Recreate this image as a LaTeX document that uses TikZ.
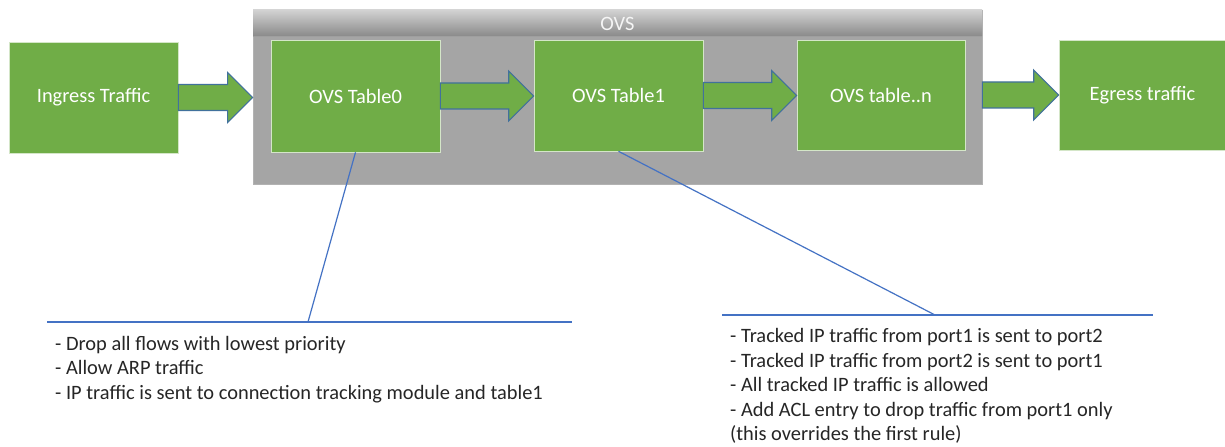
\documentclass[tikz,border=0pt]{standalone}
\usepackage{fontspec}
\setmainfont{Carlito}
\usetikzlibrary{calc}
\definecolor{boxgreen}{HTML}{70AD47}
\definecolor{arrowedge}{HTML}{41719C}
\definecolor{bodygray}{HTML}{A5A5A5}
\definecolor{headtop}{HTML}{D2D2D2}
\definecolor{headbot}{HTML}{8A8A8A}
\definecolor{callblue}{HTML}{4472C4}
\definecolor{notetext}{HTML}{262626}
\tikzset{
  greenbox/.style={draw=white!70!boxgreen, line width=0.6bp, fill=boxgreen, text=white,
    font=\fontsize{20.5}{24.5}\selectfont, inner sep=0pt, minimum width=169bp, minimum height=111bp},
  blockarrow/.style={draw=arrowedge, line width=1.1bp, fill=boxgreen, line join=miter},
  callout/.style={draw=callblue, line width=1.2bp},
  notetxt/.style={text=notetext, align=left, anchor=north west, inner sep=0pt,
    font=\fontsize{20.5}{24.5}\selectfont},
}
\newcommand\blockarr[2]{%
  \draw[blockarrow] ($(#1)+(0,-13)$) -- ($(#2 |- #1)+(-25,-13)$) -- ($(#2 |- #1)+(-25,-25)$)
    -- (#2 |- #1) -- ($(#2 |- #1)+(-25,25)$) -- ($(#2 |- #1)+(-25,13)$) -- ($(#1)+(0,13)$) -- cycle;}
\begin{document}
\begin{tikzpicture}[x=1bp,y=-1bp]
\useasboundingbox[fill=white] (0,0) rectangle (1225,447);
% OVS container
\node[draw=gray!60, line width=0.6bp, fill=bodygray, minimum width=729bp, minimum height=174bp, inner sep=0pt] (ovs) at (617.5,97) {};
\shade[top color=headtop, bottom color=headbot] (253,10) rectangle (982,36);
\draw[gray!75, line width=0.8bp] (253,36) -- (982,36);
\node[text=white!92!gray, font=\fontsize{20.5}{24.5}\selectfont, inner sep=0pt] (ovshead) at (617.5,23.5) {OVS};
% boxes
\node[greenbox] (in) at (93.5,97.5) {Ingress Traffic};
\node[greenbox, minimum height=112bp] (t0) at (355.5,96) {OVS Table0};
\node[greenbox] (t1) at (618.5,95.5) {OVS Table1};
\node[greenbox, minimum width=168bp, minimum height=110bp] (tn) at (881,95) {OVS table..n};
\node[greenbox, minimum width=167bp, minimum height=110bp] (eg) at (1142.5,95) {Egress traffic};
% arrows
\blockarr{in.east}{ovs.west}
\blockarr{t0.east}{t1.west}
\blockarr{t1.east}{tn.west}
\blockarr{ovs.east |- tn.east}{eg.west}
% callouts
\coordinate (k0) at (308,322);
\coordinate (h0a) at (47,322);
\coordinate (h0b) at (572,322);
\coordinate (k1) at (935,315);
\coordinate (h1a) at (722,315);
\coordinate (h1b) at (1153,315);
\draw[callout] (t0.south) -- (k0);
\draw[callout] (h0a) -- (h0b);
\draw[callout] (t1.south) -- (k1);
\draw[callout] (h1a) -- (h1b);
% notes
\node[notetxt] (note0) at (55,336) {- Drop all flows with lowest priority\\- Allow ARP traffic\\- IP traffic is sent to connection tracking module and table1};
\node[notetxt] (note1) at (730,328.5) {- Tracked IP traffic from port1 is sent to port2\\- Tracked IP traffic from port2 is sent to port1\\- All tracked IP traffic is allowed\\- Add ACL entry to drop traffic from port1 only\\(this overrides the first rule)};
\end{tikzpicture}
\end{document}
